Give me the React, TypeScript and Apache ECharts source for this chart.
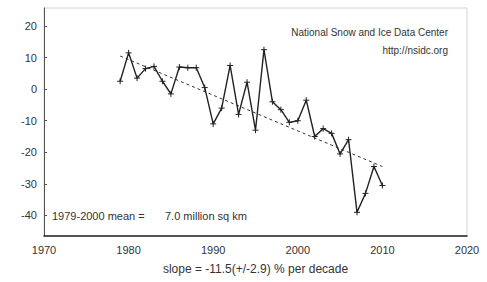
import React, { useEffect, useRef } from "react";
import * as echarts from "echarts";

const years = [1979, 1980, 1981, 1982, 1983, 1984, 1985, 1986, 1987, 1988, 1989, 1990, 1991, 1992, 1993, 1994, 1995, 1996, 1997, 1998, 1999, 2000, 2001, 2002, 2003, 2004, 2005, 2006, 2007, 2008, 2009, 2010];
const anomaly = [2.5, 11.5, 3.5, 6.5, 7.2, 2.5, -1.5, 7.0, 6.8, 6.8, 0.5, -11, -6, 7.5, -8, 2.2, -13, 12.5, -4, -6.5, -10.5, -10, -3.5, -15, -12.5, -14, -20.5, -16, -39, -33, -24.5, -30.5];
const trendYears = [1979, 2010];
const trendValues = [10.5, -24.5];
const yTicks = [-40, -30, -20, -10, 0, 10, 20];
const sourceLines = ["National Snow and Ice Data Center", "http://nsidc.org"];
const meanLabel = "1979-2000 mean =";
const meanValue = "7.0 million sq km";
const slopeLabel = "slope = -11.5(+/-2.9) % per decade";

export default function App() {
  const ref = useRef<HTMLDivElement>(null);
  useEffect(() => {
    document.body.style.margin = "0";
    if (!ref.current) return;
    const chart = echarts.init(ref.current, null, { renderer: "svg" });
    const font = "Liberation Sans, Arial, sans-serif";
    chart.setOption({
      animation: false,
      backgroundColor: "#ffffff",
      grid: { left: 44, right: 20, top: 8, bottom: 46, show: true, borderColor: "#d4d4d4", borderWidth: 1 },
      xAxis: {
        type: "value",
        min: 1970,
        max: 2020,
        interval: 10,
        name: slopeLabel,
        nameLocation: "middle",
        nameGap: 27,
        nameTextStyle: { fontFamily: font, fontSize: 12, color: "#333" },
        axisLine: { show: true, onZero: false, lineStyle: { color: "#222", width: 1.5 } },
        axisTick: { show: false },
        splitLine: { show: false },
        axisLabel: { fontFamily: font, fontSize: 11, color: "#333", margin: 8, formatter: (v: number) => String(v) },
      },
      yAxis: {
        type: "value",
        min: -46.5,
        max: 25.7,
        axisLine: { show: true, onZero: false, lineStyle: { color: "#555", width: 1 } },
        axisTick: { show: true, inside: true, length: 3, customValues: yTicks, lineStyle: { color: "#555" } },
        splitLine: { show: false },
        axisLabel: { fontFamily: font, fontSize: 11, color: "#333", margin: 7, customValues: yTicks },
      },
      graphic: [
        { type: "text", right: 39, top: 27, style: { text: sourceLines[0], fontFamily: font, fontSize: 10, fill: "#333", textAlign: "right" } },
        { type: "text", right: 39, top: 45, style: { text: sourceLines[1], fontFamily: font, fontSize: 10, fill: "#333", textAlign: "right" } },
        { type: "text", left: 52, top: 210, style: { text: meanLabel, fontFamily: font, fontSize: 11, fill: "#333" } },
        { type: "text", left: 165, top: 210, style: { text: meanValue, fontFamily: font, fontSize: 11, fill: "#333" } },
      ],
      series: [
        {
          type: "line",
          data: trendYears.map((y, i) => [y, trendValues[i]]),
          symbol: "none",
          lineStyle: { color: "#333", width: 1, type: [3, 3] },
          z: 2,
        },
        {
          type: "line",
          data: years.map((y, i) => [y, anomaly[i]]),
          symbol: "path://M0,4L8,4M4,0L4,8",
          symbolSize: 6,
          itemStyle: { color: "none", borderColor: "#222", borderWidth: 1 },
          lineStyle: { color: "#222", width: 1.4 },
          z: 3,
        },
      ],
    });
    return () => chart.dispose();
  }, []);
  return <div ref={ref} style={{ width: 487, height: 282 }} />;
}
